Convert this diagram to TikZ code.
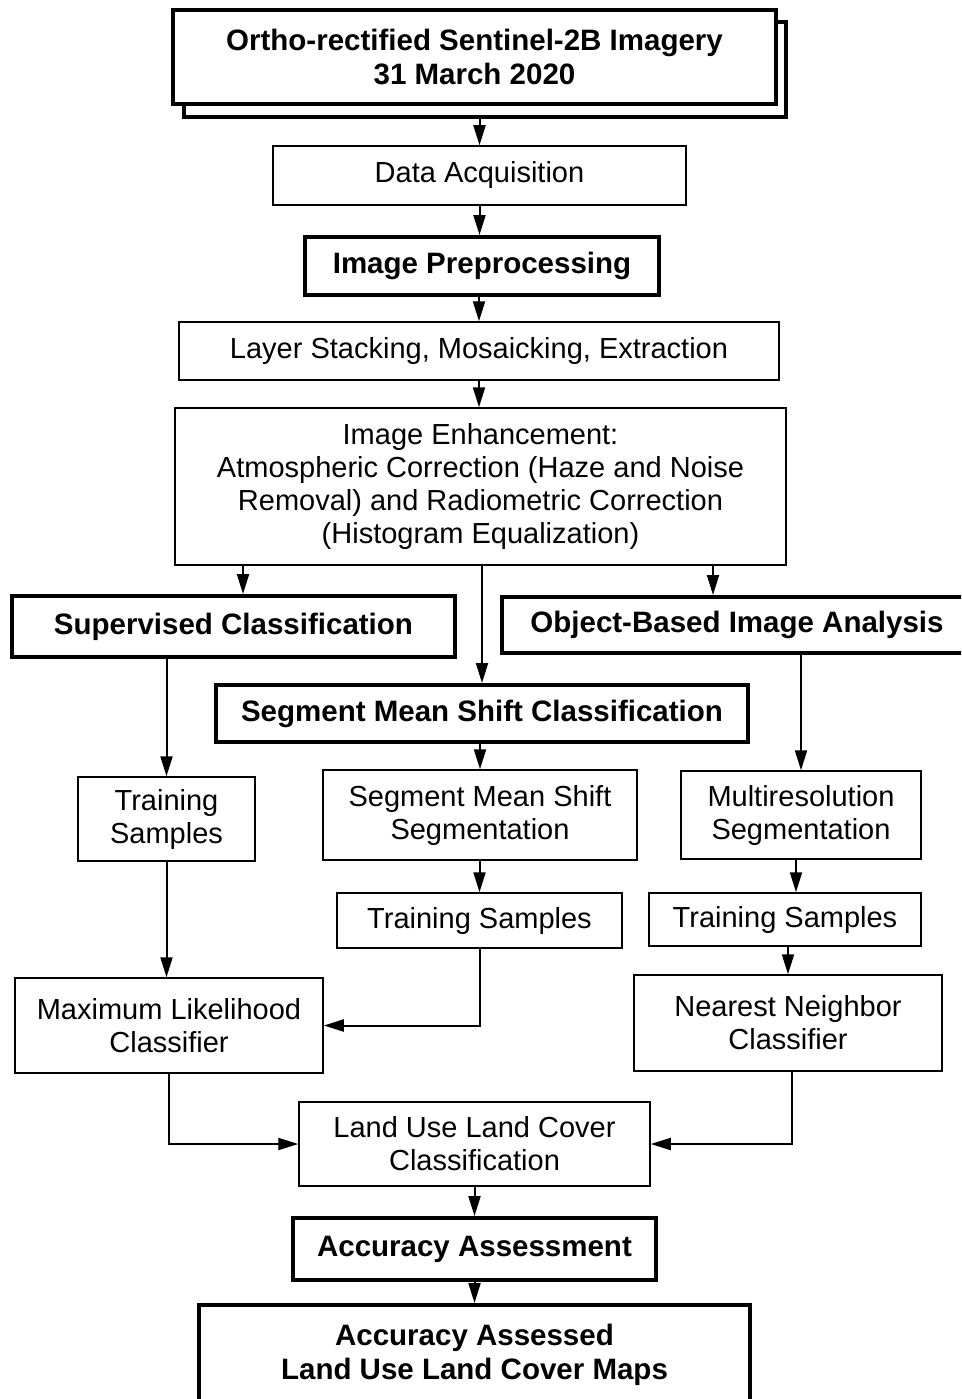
\documentclass[tikz,border=0pt]{standalone}
\usepackage{fontspec}
\setmainfont{Liberation Sans}
\usepackage{tikz}
\usetikzlibrary{arrows.meta}
\tikzset{
  box/.style = {draw, line width=1.5pt, fill=white, inner sep=0pt, align=center,
                font=\fontsize{29}{33}\selectfont},
  boldbox/.style = {box, line width=4pt, font=\fontsize{29.5}{34}\selectfont\bfseries},
  flow/.style = {line width=2pt, -{Triangle[length=20pt, width=12pt]}}
}

\begin{document}
\begin{tikzpicture}[x=1pt, y=-1pt]
\useasboundingbox (0,0) rectangle (961,1399);
\clip (0,0) rectangle (961,1399);
\node[boldbox, minimum width=602, minimum height=95] (srcback) at (485,69.5) {};
\node[boldbox, minimum width=603, minimum height=94] (src) at (474.5,57)
  {Ortho-rectified Sentinel-2B Imagery\\31 March 2020};
\node[box, minimum width=413, minimum height=59] (acq) at (479.5,175.5) {Data Acquisition};
\node[boldbox, minimum width=354, minimum height=58] (pre) at (482,266) {Image Preprocessing};
\node[box, minimum width=600, minimum height=58] (stack) at (479,351)
  {Layer Stacking, Mosaicking, Extraction};
\node[box, minimum width=611, minimum height=157] (enh) at (480.5,486.5)
  {Image Enhancement:\\Atmospheric Correction (Haze and Noise\\Removal) and Radiometric Correction\\(Histogram Equalization)};
\node[boldbox, minimum width=443, minimum height=61] (sup) at (233.5,626.5) {Supervised Classification};
\node[boldbox, minimum width=470, minimum height=56] (obia) at (737,625) {Object-Based Image Analysis};
\node[boldbox, minimum width=532, minimum height=57] (sms) at (482,713.5) {Segment Mean Shift Classification};
\node[box, minimum width=177, minimum height=84] (trl) at (166.5,819) {Training\\Samples};
\node[box, minimum width=314, minimum height=90] (smsseg) at (480,815) {Segment Mean Shift\\Segmentation};
\node[box, minimum width=240, minimum height=88] (mrs) at (801,815) {Multiresolution\\Segmentation};
\node[box, minimum width=285, minimum height=55] (trm) at (479.5,920.5) {Training Samples};
\node[box, minimum width=272, minimum height=53] (trr) at (785,919.5) {Training Samples};
\node[box, minimum width=308, minimum height=95] (mlc) at (169,1025.5) {Maximum Likelihood\\Classifier};
\node[box, minimum width=308, minimum height=96] (nnc) at (788,1023) {Nearest Neighbor\\Classifier};
\node[box, minimum width=351, minimum height=84] (lulc) at (474.5,1144) {Land Use Land Cover\\Classification};
\node[boldbox, minimum width=363, minimum height=62] (acc) at (474.5,1249) {Accuracy Assessment};
\node[boldbox, minimum width=551, minimum height=100] (maps) at (474.5,1355)
  {Accuracy Assessed\\Land Use Land Cover Maps};
% main trunk
\draw[flow] (srcback.south -| acq.north) -- (acq.north);
\draw[flow] (acq.south) -- (acq.south |- pre.north);
\draw[flow] (stack.north |- pre.south) -- (stack.north);
\draw[flow] (stack.south) -- (stack.south |- enh.north);
% three branches
\draw[flow] ([xshift=9.5]sup.north |- enh.south) -- ([xshift=9.5]sup.north);
\draw[flow] ([xshift=-24]obia.north |- enh.south) -- ([xshift=-24]obia.north);
\draw[flow] (sms.north |- enh.south) -- (sms.north);
\draw[flow] (trl.north |- sup.south) -- (trl.north);
\draw[flow] (mrs.north |- obia.south) -- (mrs.north);
\draw[flow] (smsseg.north |- sms.south) -- (smsseg.north);
\draw[flow] (trm.north |- smsseg.south) -- (trm.north);
\draw[flow] ([xshift=-5]mrs.south) -- ([xshift=-5]mrs.south |- trr.north);
\draw[flow] (trl.south) -- (trl.south |- mlc.north);
\draw[flow] (trm.south) |- (mlc.east);
\draw[flow] (nnc.north |- trr.south) -- (nnc.north);
% merge
\draw[flow] (mlc.south) |- (lulc.west);
\draw[flow] ([xshift=4]nnc.south) |- (lulc.east);
\draw[flow] (lulc.south) -- (acc.north);
\draw[flow] (acc.south) -- (maps.north);
\end{tikzpicture}
\end{document}
